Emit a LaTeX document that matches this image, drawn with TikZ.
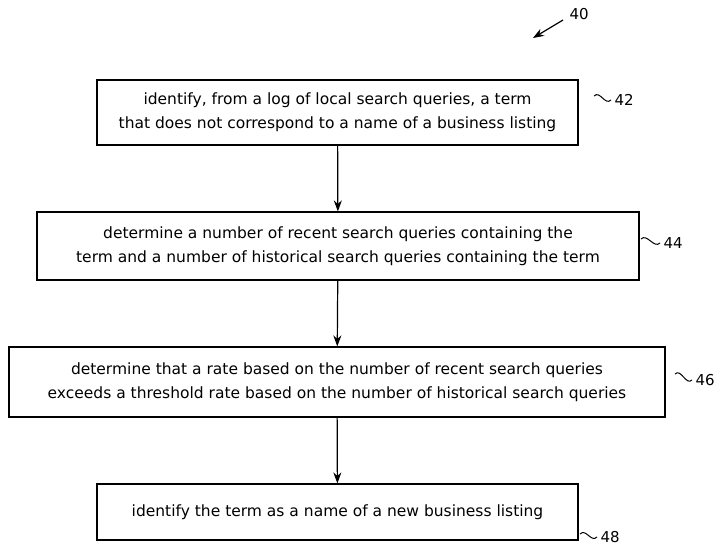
\documentclass[tikz,border=0pt]{standalone}
\usepackage{fontspec}
\setmainfont{DejaVu Sans}
\usetikzlibrary{arrows.meta}
\begin{document}
\begin{tikzpicture}[x=1pt,y=-1pt,
  step_box/.style={draw=black,line width=1.2pt,align=center,font=\fontsize{15.5}{24}\selectfont,inner sep=0pt},
  ref_label/.style={font=\fontsize{15}{17}\selectfont,anchor=west},
  flow_arrow/.style={draw=black,line width=1.2pt,-{Stealth[length=11pt,width=8pt]}},
  wiggle/.style={draw=black,line width=1pt}]
  \useasboundingbox (0,0) rectangle (720,545);
  \node[step_box,minimum width=481pt,minimum height=65pt] (s42) at (337.5,112.5)
    {identify, from a log of local search queries, a term\\that does not correspond to a name of a business listing};
  \node[step_box,minimum width=602pt,minimum height=68pt] (s44) at (338,246)
    {determine a number of recent search queries containing the\\term and a number of historical search queries containing the term};
  \node[step_box,minimum width=656pt,minimum height=70pt] (s46) at (337,382)
    {determine that a rate based on the number of recent search queries\\exceeds a threshold rate based on the number of historical search queries};
  \node[step_box,minimum width=481pt,minimum height=56pt] (s48) at (337.5,512)
    {identify the term as a name of a new business listing};
  \draw[flow_arrow] (s42) -- (s44);
  \draw[flow_arrow] (s44) -- (s46);
  \draw[flow_arrow] (s46) -- (s48);
  % reference numerals
  \node[ref_label] (l40) at (566,14) {40};
  \node[ref_label] (l42) at (611,100) {42};
  \node[ref_label] (l44) at (660,243) {44};
  \node[ref_label] (l46) at (692,380) {46};
  \node[ref_label] (l48) at (597,537) {48};
  \coordinate (a40) at (533,38);
  \draw[flow_arrow] (l40.west) ++(-3,6) -- (a40);
  \draw[wiggle] (l42.west) ++(-17,-4) .. controls +(6,-6) and +(-6,6) .. ++(17,4);
  \draw[wiggle] (l44.west) ++(-19,-4) .. controls +(6,-6) and +(-6,6) .. ++(19,4);
  \draw[wiggle] (l46.west) ++(-17,-6) .. controls +(6,-6) and +(-6,6) .. ++(17,6);
  \draw[wiggle] (l48.west) ++(-17,-3) .. controls +(6,-6) and +(-6,6) .. ++(17,3);
\end{tikzpicture}
\end{document}
